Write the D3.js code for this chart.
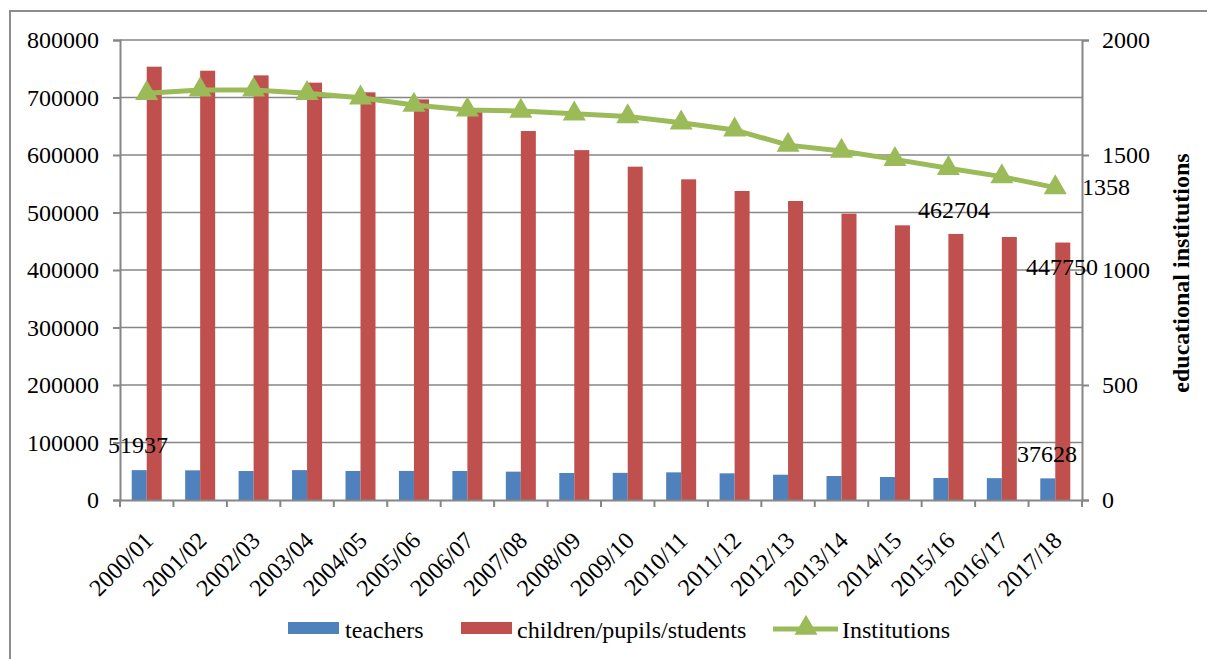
<!DOCTYPE html>
<html><head><meta charset="utf-8">
<script src="https://cdn.jsdelivr.net/npm/d3@7"></script>
<style>body{margin:0;background:#fff}svg{display:block}svg text{font-family:'Liberation Serif','Times New Roman',Times,'DejaVu Serif',serif !important}</style>
</head><body><svg id="c" width="1207" height="659"></svg>
<script>
const categories = ["2000/01","2001/02","2002/03","2003/04","2004/05","2005/06","2006/07","2007/08","2008/09","2009/10","2010/11","2011/12","2012/13","2013/14","2014/15","2015/16","2016/17","2017/18"];
const teachers = [51937,51600,50400,52000,50500,50500,50500,49300,47000,47200,48100,46400,44000,41700,40000,38300,38000,37628];
const students = [753600,746600,738500,725800,709000,696800,674800,641700,608500,579700,557700,537400,520000,498000,477700,462704,457400,447750];
const institutions = [1768,1783,1783,1768,1749,1717,1696,1691,1679,1667,1640,1609,1543,1517,1481,1442,1406,1358];
const leftTicks = [0,100000,200000,300000,400000,500000,600000,700000,800000];
const rightTicks = [0,500,1000,1500,2000];
const seriesNames = ["teachers","children/pupils/students","Institutions"];
const colors = {blue:"#4F81BD", red:"#C0504D", green:"#9BBB59", grid:"#868686"};
const FONT = "'Liberation Serif','Times New Roman',Times,'DejaVu Serif',serif";

const svg = d3.select("#c").attr("font-family",FONT);
const L=120, R=1082, T=40, B=500;
const x = d3.scaleBand().domain(categories).range([L,R]);
const y = d3.scaleLinear().domain([0,800000]).range([B,T]);
const y2 = d3.scaleLinear().domain([0,2000]).range([B,T]);
const fs = 24;

svg.append("rect").attr("x",10).attr("y",11).attr("width",1210).attr("height",660)
  .attr("fill","none").attr("stroke","#8c8c8c").attr("stroke-width",2);

svg.append("g").selectAll("line").data(leftTicks.slice(1)).join("line")
  .attr("x1",L).attr("x2",R).attr("y1",d=>y(d)).attr("y2",d=>y(d))
  .attr("stroke",colors.grid).attr("stroke-width",1.5);

const gl = svg.append("g").attr("transform",`translate(${L},0)`)
  .call(d3.axisLeft(y).tickValues(leftTicks).tickFormat(d3.format("d")).tickSize(7).tickPadding(14));
gl.attr("font-family",FONT);
gl.select(".domain").attr("stroke",colors.grid).attr("stroke-width",2);
gl.selectAll(".tick line").attr("stroke",colors.grid).attr("stroke-width",2);
gl.selectAll(".tick text").attr("font-size",fs).attr("fill","#000");

const gr = svg.append("g").attr("transform",`translate(${R},0)`)
  .call(d3.axisRight(y2).tickValues(rightTicks).tickFormat(d3.format("d")).tickSize(7).tickPadding(13));
gr.attr("font-family",FONT);
gr.select(".domain").attr("stroke",colors.grid).attr("stroke-width",2);
gr.selectAll(".tick line").attr("stroke",colors.grid).attr("stroke-width",2);
gr.selectAll(".tick text").attr("font-size",fs).attr("fill","#000");

const bw = 15;
const bars = svg.append("g");
bars.selectAll("rect.t").data(categories).join("rect").attr("class","t")
  .attr("x",d=>x(d)+x.bandwidth()/2-bw).attr("width",bw)
  .attr("y",(d,i)=>y(teachers[i])).attr("height",(d,i)=>B-y(teachers[i])).attr("fill",colors.blue);
bars.selectAll("rect.s").data(categories).join("rect").attr("class","s")
  .attr("x",d=>x(d)+x.bandwidth()/2).attr("width",bw)
  .attr("y",(d,i)=>y(students[i])).attr("height",(d,i)=>B-y(students[i])).attr("fill",colors.red);

const gx = svg.append("g").attr("transform",`translate(0,${B})`)
  .call(d3.axisBottom(x).tickSize(0).tickFormat(""));
gx.select(".domain").attr("stroke",colors.grid).attr("stroke-width",2);
svg.append("g").selectAll("line").data(d3.range(categories.length+1)).join("line")
  .attr("x1",i=>L+i*x.step()).attr("x2",i=>L+i*x.step()).attr("y1",B).attr("y2",B+7)
  .attr("stroke",colors.grid).attr("stroke-width",2);
svg.append("g").selectAll("text").data(categories).join("text")
  .attr("transform",d=>`translate(${x(d)+x.bandwidth()/2+2},${B+36}) rotate(-45)`)
  .attr("text-anchor","end").attr("font-size",fs).attr("dy","0.35em").text(d=>d);

const tri = d3.symbol().type(d3.symbolTriangle).size(230);
const cx = d=>x(d)+x.bandwidth()/2;
svg.append("path").datum(categories)
  .attr("d",d3.line().x(d=>cx(d)).y((d,i)=>y2(institutions[i])))
  .attr("fill","none").attr("stroke",colors.green).attr("stroke-width",5);
svg.append("g").selectAll("path").data(categories).join("path")
  .attr("transform",(d,i)=>`translate(${cx(d)},${y2(institutions[i])})`)
  .attr("d",tri).attr("fill",colors.green);

const labels = [
  {t:teachers[0], x:108, y:453},
  {t:teachers[17], x:1017, y:462},
  {t:students[15], x:918, y:218},
  {t:students[17], x:1026, y:275},
  {t:institutions[17], x:1082, y:195}
];
svg.append("g").selectAll("text").data(labels).join("text")
  .attr("x",d=>d.x).attr("y",d=>d.y).attr("font-size",fs).text(d=>d.t);

svg.append("text").attr("transform","translate(1189,273) rotate(-90)")
  .attr("text-anchor","middle").attr("font-size",24).attr("font-weight","bold")
  .text("educational institutions");

const lg = svg.append("g");
lg.append("rect").attr("x",288).attr("y",622).attr("width",51).attr("height",12).attr("fill",colors.blue);
lg.append("text").attr("x",345).attr("y",638).attr("font-size",fs).text(seriesNames[0]);
lg.append("rect").attr("x",461).attr("y",622).attr("width",51).attr("height",12).attr("fill",colors.red);
lg.append("text").attr("x",517).attr("y",638).attr("font-size",fs).text(seriesNames[1]);
lg.append("line").attr("x1",773).attr("x2",838).attr("y1",629).attr("y2",629).attr("stroke",colors.green).attr("stroke-width",5);
lg.append("path").attr("transform","translate(806,628)").attr("d",tri).attr("fill",colors.green);
lg.append("text").attr("x",842).attr("y",638).attr("font-size",fs).text(seriesNames[2]);
</script></body></html>
